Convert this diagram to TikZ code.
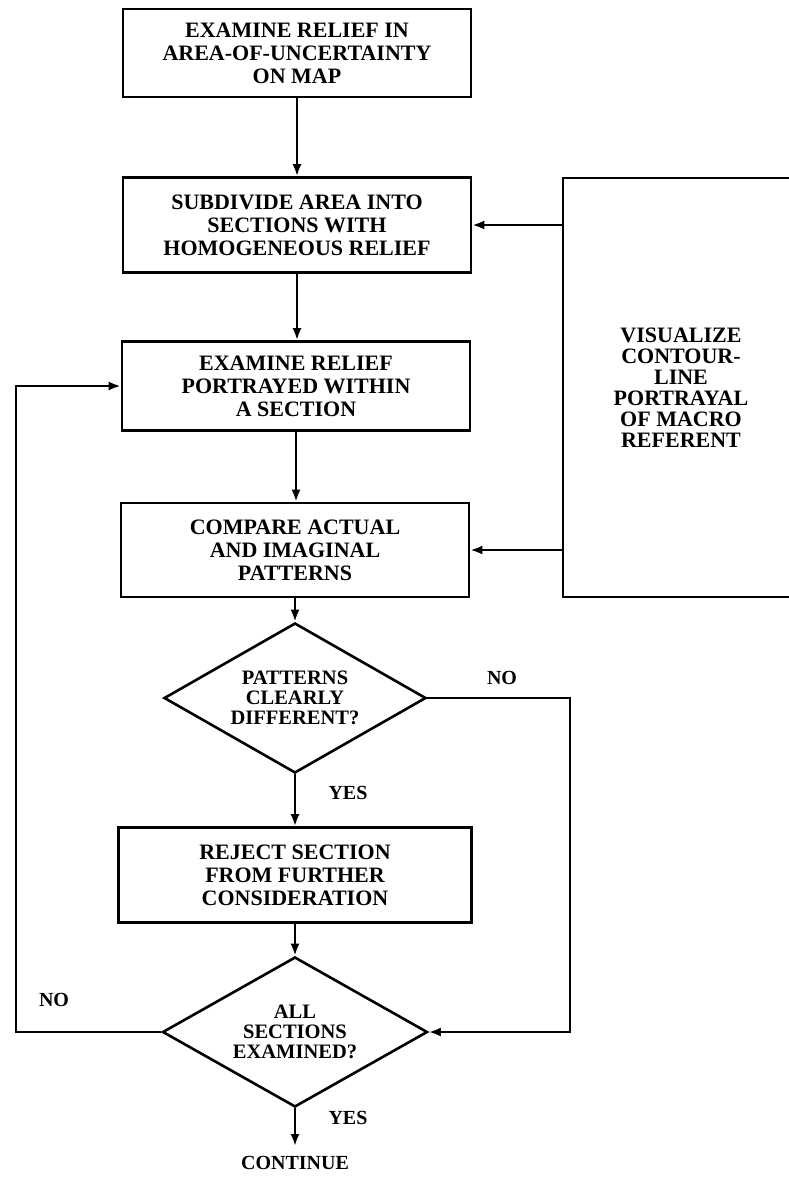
\documentclass[tikz,border=0pt]{standalone}
\usepackage{fontspec}
\setmainfont{Liberation Serif}
\usetikzlibrary{shapes.geometric,arrows.meta}
\begin{document}
\begin{tikzpicture}[x=1pt,y=-1pt,
  every node/.style={font=\fontsize{22}{23}\selectfont\bfseries},
  proc/.style={draw, line width=2.6pt, align=center, inner sep=0pt, minimum width=348pt, minimum height=92pt},
  dec/.style={draw, diamond, aspect=1.73, line width=2.6pt, align=center, inner sep=0pt,
              minimum width=262pt, minimum height=150pt, font=\fontsize{20.5}{20}\selectfont\bfseries},
  lbl/.style={inner sep=0pt, font=\fontsize{20}{20}\selectfont\bfseries},
  arr/.style={line width=2.6pt, -{Latex[length=12pt,width=9pt]}}]
\useasboundingbox (0,0) rectangle (788,1177);
\fill[white] (0,0) rectangle (788,1177);

\node[proc, minimum height=88pt] (b1) at (297,53) {EXAMINE RELIEF IN\\AREA-OF-UNCERTAINTY\\ON MAP};
\node[proc, minimum height=95pt] (b2) at (297,225) {SUBDIVIDE AREA INTO\\SECTIONS WITH\\HOMOGENEOUS RELIEF};
\node[proc, minimum height=89pt] (b3) at (296,386) {EXAMINE RELIEF\\PORTRAYED WITHIN\\A SECTION};
\node[proc, minimum height=94pt] (b4) at (295,550) {COMPARE ACTUAL\\AND IMAGINAL\\PATTERNS};
\node[dec] (d1) at (295,698) {PATTERNS\\CLEARLY\\DIFFERENT?};
\node[proc, minimum width=353pt, minimum height=95pt] (b5) at (295,875) {REJECT SECTION\\FROM FURTHER\\CONSIDERATION};
\node[dec, minimum width=265pt] (d2) at (295,1032) {ALL\\SECTIONS\\EXAMINED?};
\node[draw, line width=2.6pt, align=center, inner sep=0pt, minimum width=236pt, minimum height=419pt,
      font=\fontsize{22}{21}\selectfont\bfseries] (vis) at (681,387.5)
      {VISUALIZE\\CONTOUR-\\LINE\\PORTRAYAL\\OF MACRO\\REFERENT};

\node[lbl] (no1) at (502,678) {NO};
\node[lbl] (yes1) at (348,793) {YES};
\node[lbl] (no2) at (54,1000) {NO};
\node[lbl] (yes2) at (348,1118) {YES};
\node[lbl] (cont) at (295,1163) {CONTINUE};

\coordinate (rc) at (570,0);
\coordinate (lc) at (16,0);
\coordinate (endp) at (295,1146);

\draw[arr] (b1.south) -- (b2.north);
\draw[arr] (b2.south) -- (b2.south |- b3.north);
\draw[arr] (b3.south) -- (b3.south |- b4.north);
\draw[arr] (b4.south) -- (b4.south |- d1.north);
\draw[arr] (d1.south) -- (d1.south |- b5.north);
\draw[arr] (b5.south) -- (b5.south |- d2.north);
\draw[arr] (d2.south) -- (endp);
\draw[arr] (d1.east) -- (d1.east -| rc) |- (d2.east);
\draw[arr] (d2.west) -- (d2.west -| lc) |- (b3.west);
\draw[arr] (vis.west |- b2.east) -- (b2.east);
\draw[arr] (vis.west |- b4.east) -- (b4.east);
\end{tikzpicture}
\end{document}
